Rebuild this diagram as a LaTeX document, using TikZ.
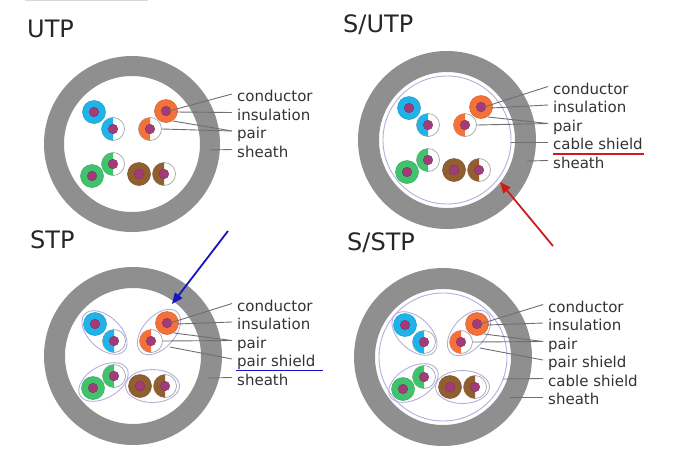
\documentclass[tikz,border=0pt]{standalone}
\usepackage{fontspec}
\setmainfont{DejaVu Sans}
\usetikzlibrary{calc,arrows.meta}

\definecolor{sheathgray}{HTML}{8F8F8F}
\definecolor{leadergray}{HTML}{6F6F6F}
\definecolor{shieldlav}{HTML}{B4AEDD}
\definecolor{copper}{HTML}{A23C79}
\definecolor{wblue}{HTML}{1FB3EA}
\definecolor{worange}{HTML}{F4713A}
\definecolor{wgreen}{HTML}{3FC46D}
\definecolor{wbrown}{HTML}{915E2F}
\definecolor{textgray}{HTML}{333333}
\definecolor{markred}{HTML}{D11A1A}
\definecolor{markblue}{HTML}{1414C4}

\tikzset{
  sheath/.style={fill=sheathgray, even odd rule},
  cableshield/.style={draw=shieldlav, line width=0.9pt},
  pairshield/.style={draw=shieldlav, line width=0.9pt},
  leader/.style={draw=leadergray, line width=0.9pt},
  lbl/.style={anchor=base west, inner xsep=5pt, inner ysep=0pt, text height=15pt,
    text depth=0pt, text=textgray, font=\fontsize{15}{18}\selectfont},
  title/.style={anchor=base west, inner sep=0pt, text=black!85, font=\fontsize{24}{28}\selectfont},
  marker/.style={line width=1.8pt, -{Triangle[length=11pt,width=9pt]}}
}

% wires: full colour and half colour
\newcommand{\fullwire}[2]{%
  \filldraw[fill=#2, draw=#2!85!black, line width=0.5pt] #1 circle (11.5);
  \filldraw[fill=copper, draw=copper!80!black, line width=0.4pt] #1 circle (4.8);}
\newcommand{\halfwire}[2]{%
  \filldraw[fill=white, draw=gray!70, line width=0.7pt] #1 circle (11.5);
  \fill[#2] #1 ++(0,11.5) arc[start angle=90, end angle=270, radius=11.5] -- cycle;
  \filldraw[fill=copper, draw=copper!80!black, line width=0.4pt] #1 circle (4.8);}
\newcommand{\fourpairs}{%
  \fullwire{(-38,-32)}{wblue}  \halfwire{(-19,-15)}{wblue}
  \fullwire{(34,-33)}{worange} \halfwire{(18,-15)}{worange}
  \halfwire{(-19,20)}{wgreen}  \fullwire{(-40,32)}{wgreen}
  \fullwire{(7,30)}{wbrown}    \halfwire{(32,30)}{wbrown}}
\newcommand{\pairshields}{%
  \draw[pairshield, rotate around={-43:(-28.5,-23.5)}] (-28.5,-23.5) ellipse [x radius=27, y radius=16];
  \draw[pairshield, rotate around={48:(26,-24)}] (26,-24) ellipse [x radius=27, y radius=16];
  \draw[pairshield, rotate around={30:(-29.5,26)}] (-29.5,26) ellipse [x radius=27, y radius=16];
  \draw[pairshield] (19.5,30) ellipse [x radius=27, y radius=16.5];}
% leader targets on the orange pair
\newcommand{\wiretargets}[1]{%
  \coordinate (#1-cond) at (37,-33);
  \coordinate (#1-ins) at (44,-32);
  \coordinate (#1-pa) at (41,-23);
  \coordinate (#1-pb) at (30,-15);
  \coordinate (#1-ps) at (37,-9);}

\begin{document}
\begin{tikzpicture}[x=1pt, y=-1pt]
  \useasboundingbox (0,0) rectangle (686,467);
  \draw[black!15, line width=1.5pt] (25,0.5) -- (148,0.5);

  % UTP
  \node[title] (utp) at (27,37) {UTP};
  \begin{scope}[shift={(132,144)}]
    \fill[sheath] (0,0) circle (88) (0,0) circle (68);
    \fourpairs
    \wiretargets{utp}
    \coordinate (utp-sh) at (78,6);
  \end{scope}
  \foreach \txt/\key [count=\i from 0] in {conductor/cond, insulation/ins, pair/pa, sheath/sh}
    \node[lbl] (utp-l-\key) at (232,{101.5+18.5*\i}) {\txt};
  \foreach \key in {cond, ins, pa, sh}
    \draw[leader] (utp-l-\key.west) -- (utp-\key);
  \draw[leader] (utp-l-pa.west) -- (utp-pb);

  % S/UTP
  \node[title] (sutp) at (343,32) {S/UTP};
  \begin{scope}[shift={(447,140)}]
    \fill[sheath] (0,0) circle (89) (0,0) circle (68);
    \draw[cableshield] (0,0) circle (64);
    \fourpairs
    \wiretargets{sutp}
    \coordinate (sutp-cs) at (64,2);
    \coordinate (sutp-sh) at (80,21);
  \end{scope}
  \foreach \txt/\key [count=\i from 0] in {conductor/cond, insulation/ins, pair/pa, cable shield/cs, sheath/sh}
    \node[lbl] (sutp-l-\key) at (548,{94+18.5*\i}) {\txt};
  \foreach \key in {cond, ins, pa, cs, sh}
    \draw[leader] (sutp-l-\key.west) -- (sutp-\key);
  \draw[leader] (sutp-l-pa.west) -- (sutp-pb);
  \draw[markred, line width=1.8pt] ($(sutp-l-cs.base west)+(5,4.5)$) -- ($(sutp-l-cs.base east)+(-4,4.5)$);

  % STP
  \node[title] (stp) at (30,248) {STP};
  \begin{scope}[shift={(133,356)}]
    \fill[sheath] (0,0) circle (89) (0,0) circle (68);
    \pairshields
    \fourpairs
    \wiretargets{stp}
    \coordinate (stp-sh) at (75,22);
  \end{scope}
  \foreach \txt/\key [count=\i from 0] in {conductor/cond, insulation/ins, pair/pa, pair shield/ps, sheath/sh}
    \node[lbl] (stp-l-\key) at (232,{311+18.5*\i}) {\txt};
  \foreach \key in {cond, ins, pa, ps, sh}
    \draw[leader] (stp-l-\key.west) -- (stp-\key);
  \draw[leader] (stp-l-pa.west) -- (stp-pb);
  \draw[markblue, line width=1.8pt] ($(stp-l-ps.base west)+(4,4)$) -- ($(stp-l-ps.base east)+(2,4)$);

  % S/STP
  \node[title] (sstp) at (347,250) {S/STP};
  \begin{scope}[shift={(443,357)}]
    \fill[sheath] (0,0) circle (89) (0,0) circle (68);
    \draw[cableshield] (0,0) circle (64);
    \pairshields
    \fourpairs
    \wiretargets{sstp}
    \coordinate (sstp-cs) at (60,22);
    \coordinate (sstp-sh) at (67,40);
  \end{scope}
  \foreach \txt/\key [count=\i from 0] in {conductor/cond, insulation/ins, pair/pa, pair shield/ps, cable shield/cs, sheath/sh}
    \node[lbl] (sstp-l-\key) at (543,{312+18.5*\i}) {\txt};
  \foreach \key in {cond, ins, pa, ps, cs, sh}
    \draw[leader] (sstp-l-\key.west) -- (sstp-\key);
  \draw[leader] (sstp-l-pa.west) -- (sstp-pb);

  % Pointers
  \coordinate (red-tail) at (553,246);
  \coordinate (red-tip) at (500,182);
  \draw[marker, markred] (red-tail) -- (red-tip);
  \coordinate (blue-tail) at (228,231);
  \coordinate (blue-tip) at (172,304);
  \draw[marker, markblue] (blue-tail) -- (blue-tip);
\end{tikzpicture}
\end{document}
